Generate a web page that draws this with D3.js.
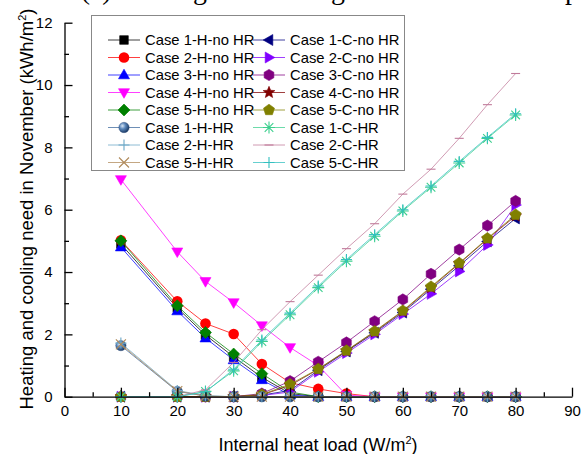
<!DOCTYPE html>
<html>
<head>
<meta charset="utf-8">
<script src="https://cdn.jsdelivr.net/npm/d3@7/dist/d3.min.js"></script>
<style>
  html, body { margin: 0; padding: 0; background: #fff; }
  svg { display: block; }
  text { font-family: "Liberation Sans", Arial, sans-serif; }
</style>
</head>
<body>
<svg id="chart" width="583" height="454"></svg>
<script>
// ---------------- data ----------------
const loads = [10, 20, 25, 30, 35, 40, 45, 50, 55, 60, 65, 70, 75, 80];
const xTicks = [0, 10, 20, 30, 40, 50, 60, 70, 80, 90];
const yTicks = [0, 2, 4, 6, 8, 10, 12];

const case1HnoHR = [4.90, 2.85, 1.98, 1.28, 0.62, 0.10, 0, 0, 0, 0, 0, 0, 0, 0];
const case2HnoHR = [5.02, 3.06, 2.35, 2.01, 1.05, 0.45, 0.25, 0.10, 0, 0, 0, 0, 0, 0];
const case3HnoHR = [4.80, 2.75, 1.88, 1.18, 0.54, 0.05, 0, 0, 0, 0, 0, 0, 0, 0];
const case4HnoHR = [6.97, 4.65, 3.70, 3.02, 2.28, 1.58, 1.00, 0.05, 0, 0, 0, 0, 0, 0];
const case5HnoHR = [5.00, 2.92, 2.06, 1.37, 0.74, 0.15, 0, 0, 0, 0, 0, 0, 0, 0];
const case1CnoHR = [0, 0, 0, 0, 0.05, 0.20, 0.85, 1.45, 2.05, 2.70, 3.45, 4.20, 4.98, 5.72];
const case2CnoHR = [0, 0, 0, 0, 0.04, 0.15, 0.80, 1.40, 2.00, 2.65, 3.30, 4.02, 4.87, 6.15];
const case3CnoHR = [0, 0, 0, 0, 0.10, 0.50, 1.12, 1.74, 2.42, 3.12, 3.94, 4.72, 5.49, 6.28];
const case4CnoHR = [0, 0, 0, 0, 0.06, 0.36, 0.88, 1.47, 2.08, 2.74, 3.50, 4.27, 5.06, 5.80];
const case5CnoHR = [0, 0, 0, 0, 0.07, 0.40, 0.89, 1.48, 2.10, 2.76, 3.53, 4.29, 5.08, 5.84];
const case1HHR = [1.64, 0.17, 0.02, 0, 0, 0, 0, 0, 0, 0, 0, 0, 0, 0];
const case2HHR = [1.72, 0.20, 0.03, 0, 0, 0, 0, 0, 0, 0, 0, 0, 0, 0];
const case5HHR = [1.68, 0.18, 0.02, 0, 0, 0, 0, 0, 0, 0, 0, 0, 0, 0];
const case1CHR = [0, 0, 0.17, 0.83, 1.77, 2.63, 3.50, 4.35, 5.15, 5.96, 6.72, 7.50, 8.29, 9.04];
const case2CHR = [0, 0, 0.22, 1.10, 2.15, 3.05, 3.90, 4.75, 5.55, 6.50, 7.30, 8.29, 9.37, 10.37];
const case5CHR = [0, 0, 0.15, 0.88, 1.82, 2.68, 3.55, 4.40, 5.20, 6.00, 6.76, 7.55, 8.32, 9.08];

const seriesNames = [
  "Case 1-H-no HR", "Case 2-H-no HR", "Case 3-H-no HR", "Case 4-H-no HR", "Case 5-H-no HR",
  "Case 1-C-no HR", "Case 2-C-no HR", "Case 3-C-no HR", "Case 4-C-no HR", "Case 5-C-no HR",
  "Case 1-H-HR", "Case 2-H-HR", "Case 5-H-HR",
  "Case 1-C-HR", "Case 2-C-HR", "Case 5-C-HR"
];
const seriesValues = [
  case1HnoHR, case2HnoHR, case3HnoHR, case4HnoHR, case5HnoHR,
  case1CnoHR, case2CnoHR, case3CnoHR, case4CnoHR, case5CnoHR,
  case1HHR, case2HHR, case5HHR,
  case1CHR, case2CHR, case5CHR
];
const titleText = "(c) Heating and cooling need in November per unit area";

// ---------------- styles ----------------
const seriesStyles = [
  { color: "#000000", shape: "square" },
  { color: "#ff0000", shape: "circle" },
  { color: "#0000ff", shape: "triUp" },
  { color: "#ff00ff", shape: "triDown" },
  { color: "#008000", shape: "diamond" },
  { color: "#000080", shape: "triLeft" },
  { color: "#8000ff", shape: "triRight" },
  { color: "#800080", shape: "hexagon" },
  { color: "#800000", shape: "star" },
  { color: "#808000", shape: "pentagon" },
  { color: "#3e6a9e", shape: "sphere" },
  { color: "#6aa6c6", shape: "plus" },
  { color: "#b08a5a", shape: "cross" },
  { color: "#3ccf8e", shape: "asterisk" },
  { color: "#c07a9a", shape: "bar" },
  { color: "#33c0c0", shape: "plus" }
];
// legend layout: [column, row]
const legendOrder = [
  [0,0],[0,1],[0,2],[0,3],[0,4],
  [1,0],[1,1],[1,2],[1,3],[1,4],
  [0,5],[0,6],[0,7],
  [1,5],[1,6],[1,7]
];

// ---------------- chart ----------------
const svg = d3.select("#chart");
const M = { left: 64.5, right: 572, top: 22.7, bottom: 396.7 };
const x = d3.scaleLinear().domain([0, 90]).range([M.left, M.right]);
const y = d3.scaleLinear().domain([0, 12]).range([M.bottom, M.top]);

const defs = svg.append("defs");
const grad = defs.append("radialGradient").attr("id", "sphere")
  .attr("cx", "35%").attr("cy", "35%").attr("r", "65%");
grad.append("stop").attr("offset", "0%").attr("stop-color", "#d8e6f4");
grad.append("stop").attr("offset", "45%").attr("stop-color", "#5b87bb");
grad.append("stop").attr("offset", "100%").attr("stop-color", "#1f3f6a");

// title (cut off at top, only descenders visible as in the reference)
const title = svg.append("text")
  .attr("x", 0).attr("y", -1.5)
  .style("font-family", "'Liberation Serif', 'Times New Roman', serif")
  .style("font-size", "28px")
  .attr("fill", "#000")
  .text(titleText);
(function alignTitle() {
  const node = title.node();
  const i1 = titleText.indexOf("g");
  const i2 = titleText.indexOf("g", titleText.indexOf("cooling"));
  const c1 = node.getExtentOfChar(i1), c2 = node.getExtentOfChar(i2);
  const m1 = c1.x + c1.width / 2, m2 = c2.x + c2.width / 2;
  const fs = 28 * (338 - 200) / (m2 - m1);
  title.style("font-size", fs + "px");
  const d1 = node.getExtentOfChar(i1);
  title.attr("x", 200 - (d1.x + d1.width / 2));
})();

function poly(n, r, rot) {
  const pts = d3.range(n).map(i => {
    const a = rot + i * 2 * Math.PI / n;
    return [r * Math.cos(a), r * Math.sin(a)];
  });
  return "M" + pts.map(p => p[0].toFixed(2) + "," + p[1].toFixed(2)).join("L") + "Z";
}
function starPath(r) {
  const pts = d3.range(10).map(i => {
    const rr = i % 2 === 0 ? r : r * 0.45;
    const a = -Math.PI / 2 + i * Math.PI / 5;
    return [rr * Math.cos(a), rr * Math.sin(a)];
  });
  return "M" + pts.map(p => p[0].toFixed(2) + "," + p[1].toFixed(2)).join("L") + "Z";
}

function drawMarker(g, shape, color, cx, cy) {
  const t = `translate(${cx},${cy})`;
  const filled = (d) => g.append("path").attr("d", d).attr("transform", t)
    .attr("fill", color).attr("stroke", color).attr("stroke-width", 0.6);
  const stroked = (d) => g.append("path").attr("d", d).attr("transform", t)
    .attr("fill", "none").attr("stroke", color).attr("stroke-width", 1.1);
  switch (shape) {
    case "square": filled("M-4.3,-4.3H4.3V4.3H-4.3Z"); break;
    case "circle": g.append("circle").attr("cx", cx).attr("cy", cy).attr("r", 5.3).attr("fill", color); break;
    case "triUp": filled("M0,-5.8L5.5,3.8L-5.5,3.8Z"); break;
    case "triDown": filled("M0,5.8L5.5,-3.8L-5.5,-3.8Z"); break;
    case "triLeft": filled("M-5.8,0L3.8,-5.5L3.8,5.5Z"); break;
    case "triRight": filled("M5.8,0L-3.8,-5.5L-3.8,5.5Z"); break;
    case "diamond": filled("M0,-6L6,0L0,6L-6,0Z"); break;
    case "hexagon": filled(poly(6, 5.6, -Math.PI / 2)); break;
    case "pentagon": filled(poly(5, 5.8, -Math.PI / 2)); break;
    case "star": filled(starPath(6.2)); break;
    case "sphere": g.append("circle").attr("cx", cx).attr("cy", cy).attr("r", 5.2)
        .attr("fill", "url(#sphere)").attr("stroke", "#2a4a78").attr("stroke-width", 0.4); break;
    case "plus": stroked("M-5.5,0H5.5M0,-5.5V5.5"); break;
    case "cross": stroked("M-5,-5L5,5M-5,5L5,-5"); break;
    case "asterisk": stroked("M-6,0H6M0,-6V6M-4.3,-4.3L4.3,4.3M-4.3,4.3L4.3,-4.3"); break;
    case "bar": stroked("M-4.5,0H4.5"); break;
  }
}

// lines and markers
const line = d3.line().x(d => x(d[0])).y(d => y(d[1]));
const plotG = svg.append("g");
seriesValues.forEach((vals, i) => {
  const st = seriesStyles[i];
  const pts = loads.map((l, j) => [l, vals[j]]);
  const g = plotG.append("g");
  g.append("path").datum(pts).attr("d", line)
    .attr("fill", "none").attr("stroke", st.color)
    .attr("stroke-width", 1).attr("stroke-opacity", 0.75);
  pts.forEach(p => drawMarker(g, st.shape, st.color, x(p[0]), y(p[1])));
});

// axes
svg.append("g").attr("transform", `translate(0,${M.bottom})`)
  .call(d3.axisBottom(x).tickValues(xTicks).tickSize(-9).tickPadding(9).tickSizeOuter(0));
svg.append("g").attr("transform", `translate(0,${M.bottom})`)
  .call(d3.axisBottom(x).tickValues(d3.range(5, 90, 10)).tickSize(-4.5).tickFormat("").tickSizeOuter(0))
  .select(".domain").remove();
svg.append("g").attr("transform", `translate(${M.left},0)`)
  .call(d3.axisLeft(y).tickValues(yTicks).tickSize(-8).tickPadding(12).tickSizeOuter(0));
svg.append("g").attr("transform", `translate(${M.left},0)`)
  .call(d3.axisLeft(y).tickValues(d3.range(1, 12, 2)).tickSize(-4.5).tickFormat("").tickSizeOuter(0))
  .select(".domain").remove();
svg.selectAll(".tick text").style("font-size", "15px").style("font-family", "'Liberation Sans', Arial, sans-serif").attr("fill", "#000");
svg.selectAll(".domain, .tick line").attr("stroke", "#000").attr("stroke-width", 1.3);

// axis labels
const xl = svg.append("text").attr("x", 318).attr("y", 451)
  .attr("text-anchor", "middle").style("font-size", "18px").attr("fill", "#000");
xl.append("tspan").text("Internal heat load (W/m");
xl.append("tspan").attr("dy", -7).style("font-size", "11px").text("2");
xl.append("tspan").attr("dy", 7).text(")");

const yl = svg.append("text").attr("transform", "translate(33,209) rotate(-90)")
  .attr("text-anchor", "middle").style("font-size", "18.5px").attr("fill", "#000");
yl.append("tspan").text("Heating and cooling need in November (kWh/m");
yl.append("tspan").attr("dy", -7).style("font-size", "11px").text("2");
yl.append("tspan").attr("dy", 7).text(")");

// legend
const lg = svg.append("g");
lg.append("rect").attr("x", 91.5).attr("y", 15.5).attr("width", 313).attr("height", 155)
  .attr("fill", "#fff").attr("stroke", "#888").attr("stroke-width", 1);
const colX = [108, 253];
const rowY0 = 40, rowH = 17.5;
seriesNames.forEach((name, i) => {
  const [c, r] = legendOrder[i];
  const st = seriesStyles[i];
  const lx = colX[c], ly = rowY0 + r * rowH;
  lg.append("line").attr("x1", lx).attr("x2", lx + 32).attr("y1", ly).attr("y2", ly)
    .attr("stroke", st.color).attr("stroke-width", 1).attr("stroke-opacity", 0.75);
  drawMarker(lg, st.shape, st.color, lx + 16, ly);
  lg.append("text").attr("x", lx + 37).attr("y", ly + 5.3)
    .style("font-size", "14.8px").attr("fill", "#000").text(name);
});
</script>
</body>
</html>
